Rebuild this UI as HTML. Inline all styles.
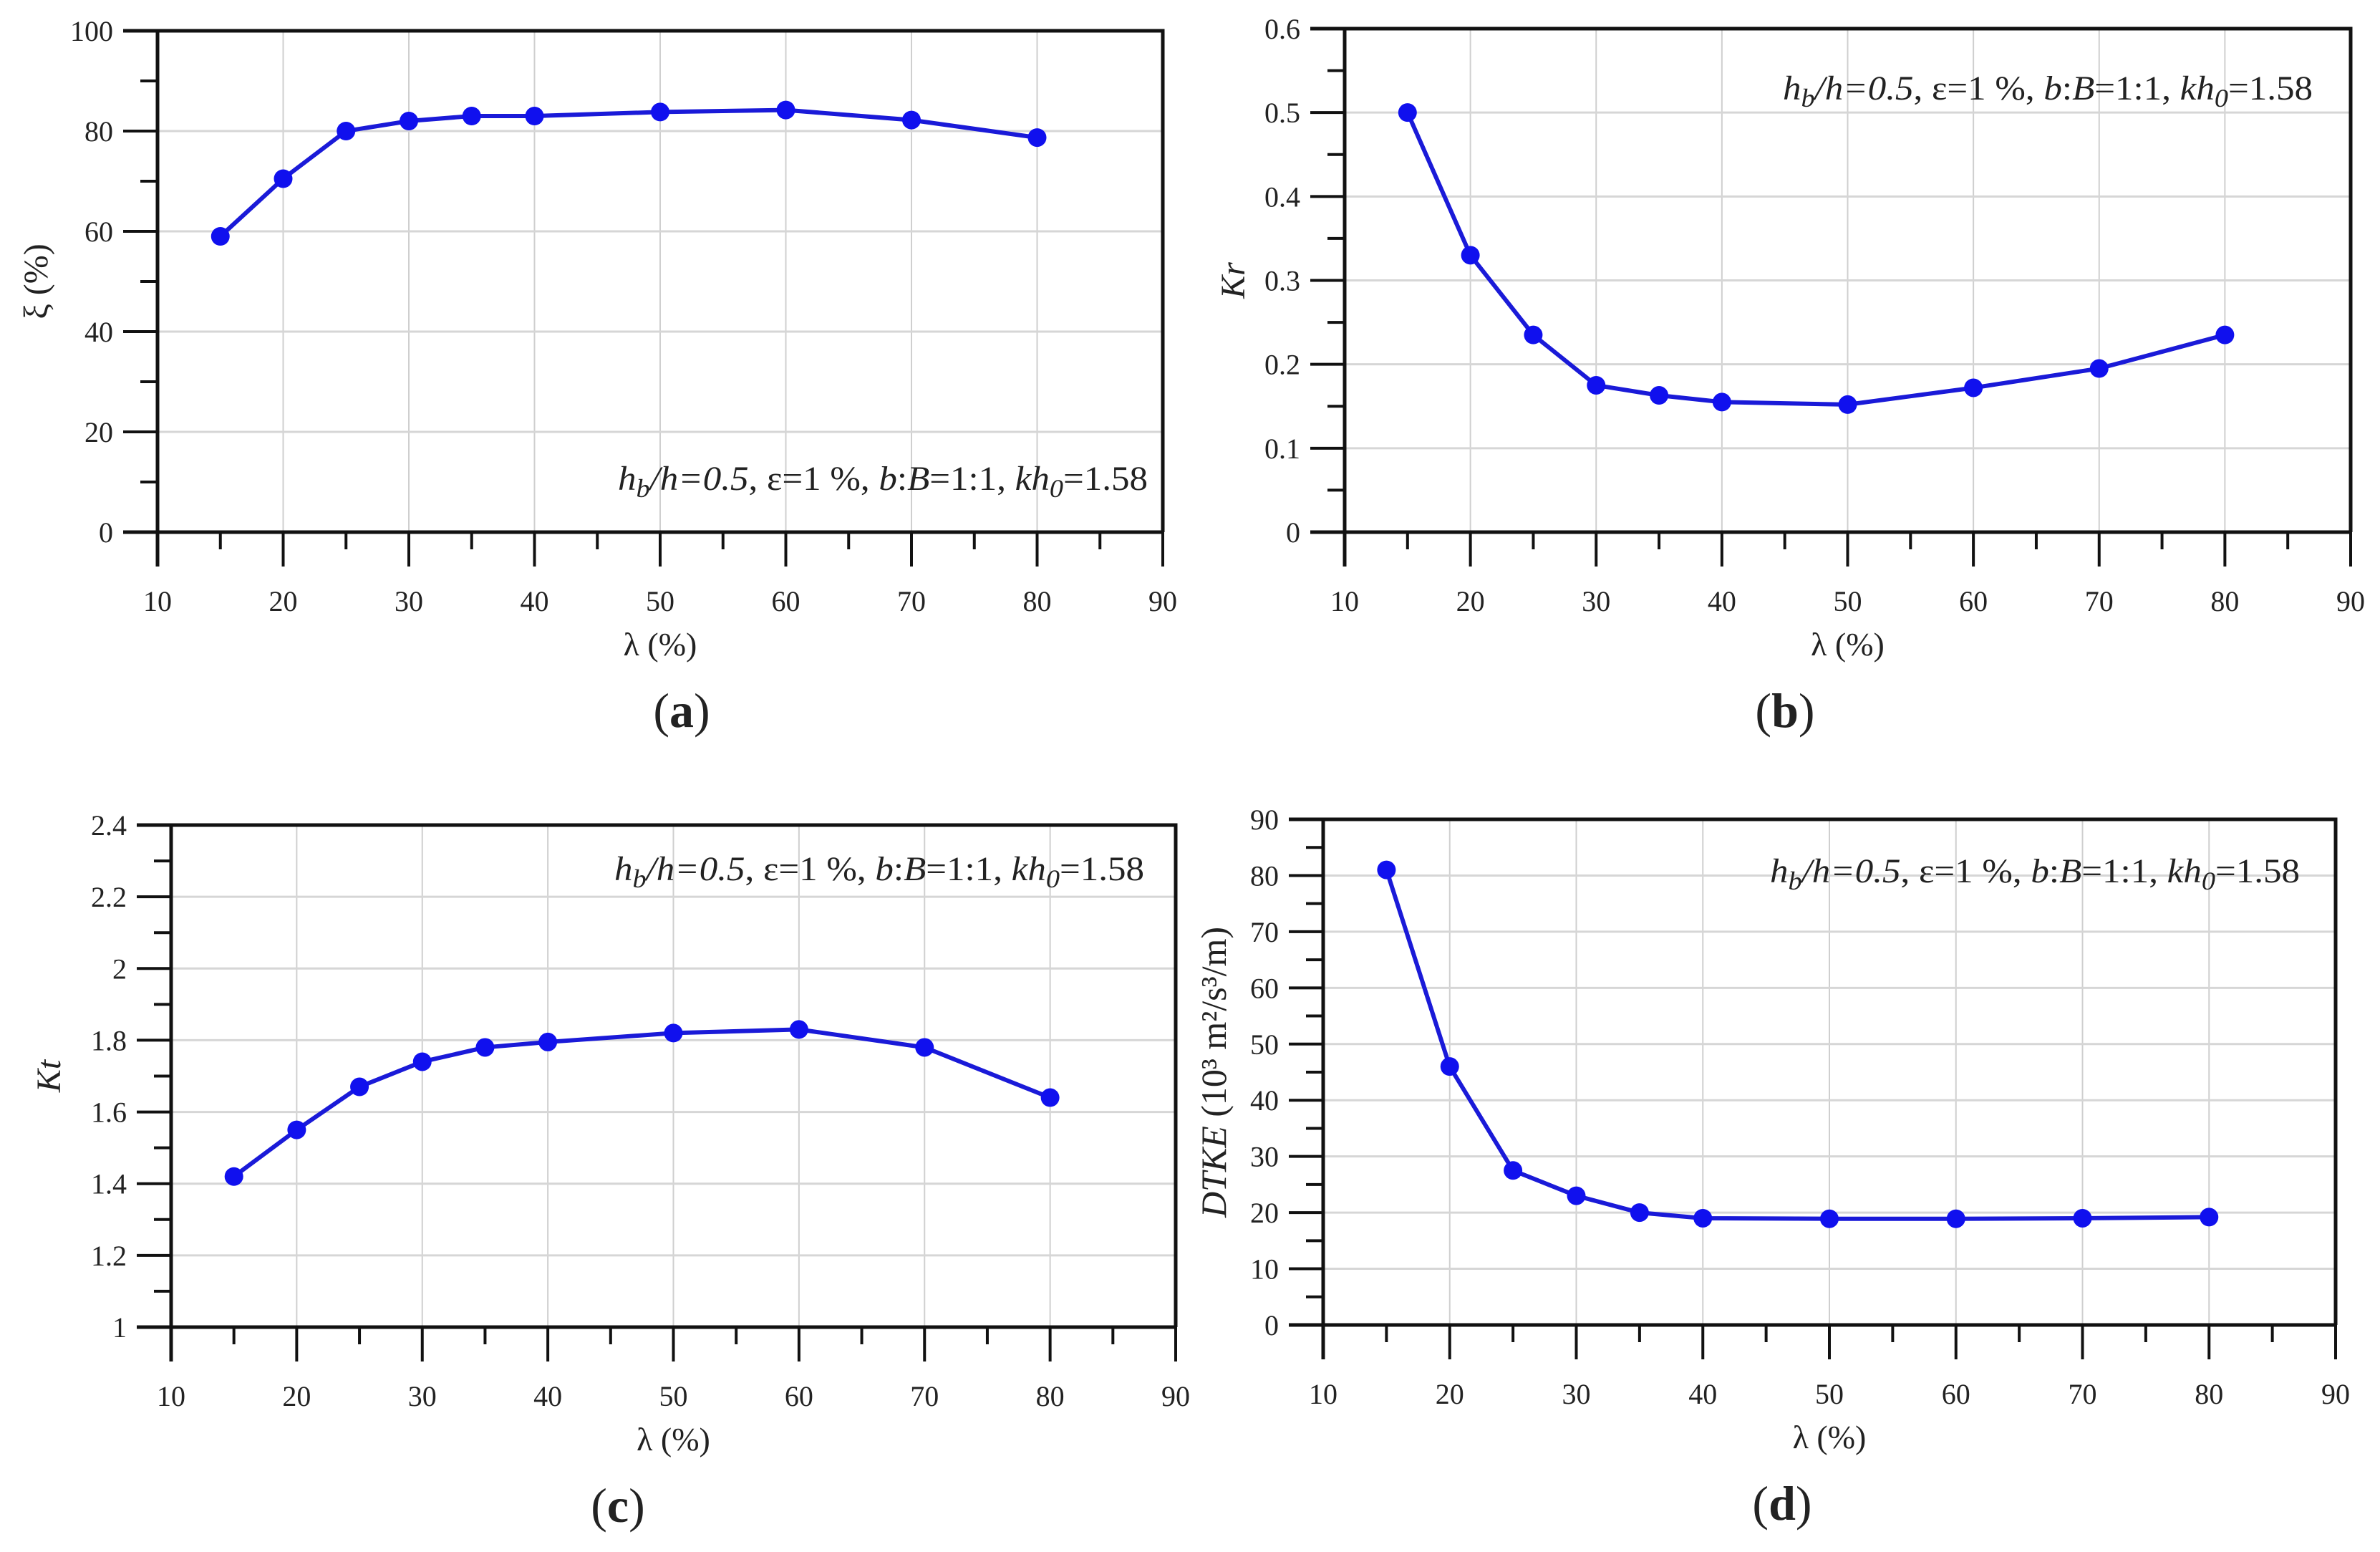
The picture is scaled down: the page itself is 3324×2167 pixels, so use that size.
<!DOCTYPE html>
<html><head><meta charset="utf-8"><style>
html,body{margin:0;padding:0;background:#fff;}
svg{display:block;}
text{font-family:"Liberation Serif",serif;fill:#222;}
</style></head><body>
<svg id="fig" width="3324" height="2167" viewBox="0 0 3324 2167" xmlns="http://www.w3.org/2000/svg"></svg>
<script>
const xCats = [15,20,25,30,35,40,50,60,70,80];
const xiVals = [59,70.5,80,82,83,83,83.8,84.2,82.2,78.7];
const krVals = [0.5,0.33,0.235,0.175,0.163,0.155,0.152,0.172,0.195,0.235];
const ktVals = [1.42,1.55,1.67,1.74,1.78,1.795,1.82,1.83,1.78,1.64];
const dtkeVals = [81,46,27.5,23,20,19,18.9,18.9,19,19.2];
const xTicks = [10,20,30,40,50,60,70,80,90];
const xiTicks = [0,20,40,60,80,100];
const krTicks = [0,0.1,0.2,0.3,0.4,0.5,0.6];
const ktTicks = [1,1.2,1.4,1.6,1.8,2,2.2,2.4];
const dtkeTicks = [0,10,20,30,40,50,60,70,80,90];

const NS="http://www.w3.org/2000/svg";
const svg=document.getElementById('fig');
function mk(tag,attrs,parent){const e=document.createElementNS(NS,tag);for(const k in attrs)e.setAttribute(k,attrs[k]);(parent||svg).appendChild(e);return e;}

function panel(cfg){
  const g=mk('g',{});
  
  
  const {x0,x1,y0,y1}=cfg;
  const ymin=cfg.yt[0], ymax=cfg.yt[cfg.yt.length-1];
  const sx=v=>x0+(v-10)/80*(x1-x0);
  const sy=v=>y0-(v-ymin)/(ymax-ymin)*(y0-y1);
  xTicks.forEach(v=>{ if(v>10&&v<90){const l=mk('line',{x1:sx(v),x2:sx(v),y1:y1,y2:y0,stroke:'#cfcfcf','stroke-width':2},g);
    
    }});
  cfg.yt.forEach((v,i)=>{ if(i>0&&i<cfg.yt.length-1){const l=mk('line',{x1:x0,x2:x1,y1:sy(v),y2:sy(v),stroke:'#d6d6d6','stroke-width':3},g);
    
    }});
  const fr=mk('path',{d:`M${x0-48},${y1}H${x1}V${y0}M${x0-48},${y0}H${x1}M${x0},${y1}V${y0+48}`,stroke:'#111',fill:'none','stroke-width':5},g);
  
  
  xTicks.forEach(v=>{
    mk('line',{x1:sx(v),x2:sx(v),y1:y0,y2:y0+48,stroke:'#111','stroke-width':4},g);
    if(v<90) mk('line',{x1:sx(v+5),x2:sx(v+5),y1:y0,y2:y0+24,stroke:'#111','stroke-width':4},g);
    const t=mk('text',{x:sx(v),y:y0+110,'text-anchor':'middle','font-size':40},g);
    t.textContent=v;
    
    
  });
  cfg.yt.forEach((v,i)=>{
    mk('line',{x1:x0-48,x2:x0,y1:sy(v),y2:sy(v),stroke:'#111','stroke-width':4},g);
    if(i<cfg.yt.length-1){const m=(v+cfg.yt[i+1])/2;mk('line',{x1:x0-24,x2:x0,y1:sy(m),y2:sy(m),stroke:'#111','stroke-width':4},g);}
    const t=mk('text',{x:x0-62,y:sy(v)+14,'text-anchor':'end','font-size':40},g);
    t.textContent=String(v);
    
    
  });
  const pts=xCats.map((c,i)=>sx(c)+','+sy(cfg.vals[i])).join(' ');
  const pl=mk('polyline',{points:pts,fill:'none',stroke:'#1a1ad8','stroke-width':6,'stroke-linejoin':'round'},g);
  
  
  xCats.forEach((c,i)=>{
    const p=mk('circle',{cx:sx(c),cy:sy(cfg.vals[i]),r:13,fill:'#1010ee'},g);
    
    
  });
  const xt=mk('text',{x:(x0+x1)/2,y:y0+172,'text-anchor':'middle','font-size':46},g);
  xt.textContent='λ (%)';
  
  
  const yt=mk('text',{x:0,y:0,'text-anchor':'middle','font-size':cfg.ytSize||48,transform:`translate(${cfg.ytx},${(y0+y1)/2}) rotate(-90)`},g);
  yt.innerHTML=cfg.ytitle;
  
  
  const an=mk('text',{x:cfg.ax,y:cfg.ay,'text-anchor':'end','font-size':48,textLength:740,lengthAdjust:'spacingAndGlyphs'},g);
  an.innerHTML='<tspan font-style="italic">h</tspan><tspan font-style="italic" font-size="36" dy="10">b</tspan><tspan font-style="italic" dy="-10">/h=0.5</tspan>, ε=1 %, <tspan font-style="italic">b</tspan>:<tspan font-style="italic">B</tspan>=1:1, <tspan font-style="italic">kh</tspan><tspan font-style="italic" font-size="36" dy="10">0</tspan><tspan dy="-10">=1.58</tspan>';
  
  
  const pl2=mk('text',{x:cfg.lx,y:y0+272,'text-anchor':'middle','font-size':68},g);
  pl2.innerHTML='(<tspan font-weight="bold">'+cfg.letter+'</tspan>)';
  
  
}
panel({name:'panel-a-xi',x0:220,x1:1624,y0:743,y1:43,yt:xiTicks,vals:xiVals,ytitle:'ξ (%)',ytx:66,ax:1603,ay:684,letter:'a',lx:952});
panel({name:'panel-b-kr',x0:1878,x1:3283,y0:743,y1:40,yt:krTicks,vals:krVals,ytitle:'<tspan font-style="italic">Kr</tspan>',ytx:1738,ax:3230,ay:139,letter:'b',lx:2493});
panel({name:'panel-c-kt',x0:239,x1:1642,y0:1853,y1:1152,yt:ktTicks,vals:ktVals,ytitle:'<tspan font-style="italic">Kt</tspan>',ytx:84,ax:1598,ay:1229,letter:'c',lx:863});
panel({name:'panel-d-dtke',x0:1848,x1:3262,y0:1850,y1:1144,yt:dtkeTicks,vals:dtkeVals,ytitle:'<tspan font-style="italic">DTKE</tspan> (10³ m²/s³/m)',ytSize:50,ytx:1712,ax:3212,ay:1232,letter:'d',lx:2489});
</script>
</body></html>
